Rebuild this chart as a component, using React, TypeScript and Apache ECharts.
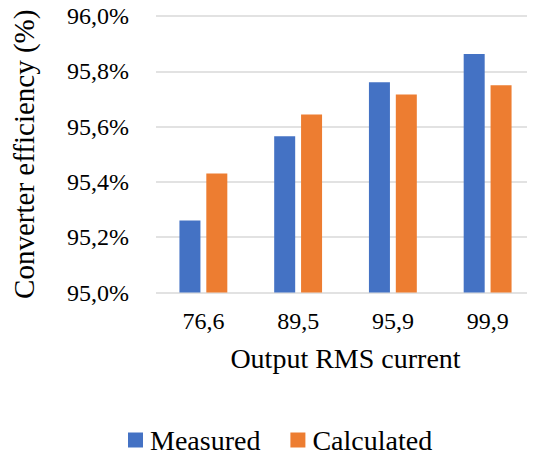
import React, { useEffect, useRef } from "react";
import * as echarts from "echarts";

const categories = ["76,6", "89,5", "95,9", "99,9"];
const measured = [95.26, 95.565, 95.76, 95.863];
const calculated = [95.43, 95.644, 95.716, 95.75];
const seriesNames = ["Measured", "Calculated"];
const yTitle = "Converter efficiency (%)";
const xTitle = "Output RMS current";

const FONT = "Liberation Serif";

export default function App() {
  const ref = useRef<HTMLDivElement>(null);
  useEffect(() => {
    if (!ref.current) return;
    const chart = echarts.init(ref.current, undefined, { renderer: "svg" });
    chart.setOption({
      animation: false,
      textStyle: { fontFamily: FONT, color: "#000" },
      grid: { left: 156, right: -3, top: 16, height: 276.5 },
      legend: {
        left: 123,
        top: 421,
        itemWidth: 15,
        itemHeight: 15,
        itemGap: 30,
        icon: "rect",
        textStyle: { fontFamily: FONT, fontSize: 28, color: "#000", padding: [0, 0, 0, 2] },
        data: seriesNames,
      },
      xAxis: {
        type: "category",
        data: categories,
        axisLine: { show: false },
        axisTick: { show: false },
        axisLabel: { fontFamily: FONT, fontSize: 24, color: "#000", margin: 16, interval: 0 },
        name: xTitle,
        nameLocation: "middle",
        nameGap: 52,
        nameTextStyle: { fontFamily: FONT, fontSize: 28, color: "#000" },
      },
      yAxis: {
        type: "value",
        min: 95.0,
        max: 96.0,
        interval: 0.2,
        axisLine: { show: false },
        axisTick: { show: false },
        splitLine: { lineStyle: { color: "#d9d9d9", width: 1.5 } },
        axisLabel: {
          fontFamily: FONT,
          fontSize: 24,
          color: "#000",
          margin: 27,
          formatter: (v: number) => v.toFixed(1).replace(".", ",") + "%",
        },
        name: yTitle,
        nameLocation: "middle",
        nameRotate: 90,
        nameGap: 118,
        nameTextStyle: { fontFamily: FONT, fontSize: 29, color: "#000" },
      },
      series: [
        {
          name: seriesNames[0],
          type: "bar",
          data: measured,
          barWidth: 21,
          barGap: "28%",
          itemStyle: { color: "#4472C4" },
        },
        {
          name: seriesNames[1],
          type: "bar",
          data: calculated,
          barWidth: 21,
          itemStyle: { color: "#ED7D31" },
        },
      ],
    });
    return () => chart.dispose();
  }, []);
  return <div ref={ref} style={{ width: 535, height: 462, margin: -8 }} />;
}
